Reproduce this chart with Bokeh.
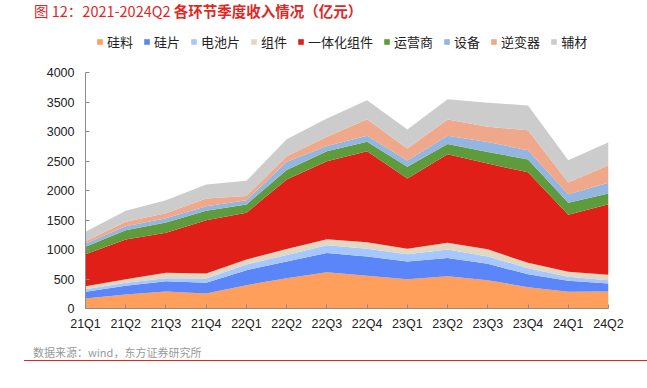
from bokeh.plotting import figure
from bokeh.models import ColumnDataSource, FixedTicker, Range1d, Legend, LegendItem, Div
from bokeh.layouts import column
from bokeh.embed import file_html
from bokeh.resources import INLINE

quarters = ["21Q1", "21Q2", "21Q3", "21Q4", "22Q1", "22Q2", "22Q3", "22Q4",
            "23Q1", "23Q2", "23Q3", "23Q4", "24Q1", "24Q2"]

silicon_material = [170, 238, 289, 255, 396, 515, 614, 557, 495, 548, 480, 362, 283, 288]   # 硅料
wafer = [113, 147, 175, 181, 255, 285, 328, 326, 305, 309, 278, 218, 187, 136]              # 硅片
cell = [45, 51, 51, 73, 96, 110, 130, 132, 120, 144, 124, 105, 68, 57]                      # 电池片
module = [51, 62, 90, 85, 85, 100, 105, 111, 96, 116, 122, 90, 84, 93]                      # 组件
integrated = [543, 673, 679, 905, 792, 1180, 1323, 1545, 1191, 1501, 1456, 1537, 968, 1197] # 一体化组件
operator = [125, 159, 176, 159, 141, 160, 170, 158, 198, 175, 199, 218, 204, 181]           # 运营商
equipment = [56, 67, 73, 79, 74, 140, 90, 105, 107, 139, 167, 158, 147, 181]                # 设备
inverter = [40, 74, 85, 130, 73, 95, 155, 280, 204, 276, 258, 339, 198, 297]                # 逆变器
auxiliary = [158, 187, 221, 238, 255, 287, 310, 322, 322, 345, 410, 419, 379, 391]          # 辅材

series_names = ["硅料", "硅片", "电池片", "组件", "一体化组件", "运营商", "设备", "逆变器", "辅材"]
series_values = [silicon_material, wafer, cell, module, integrated, operator, equipment, inverter, auxiliary]
colors = ["#FF9F5B", "#5B86FA", "#A6C8FF", "#E2D8C2", "#E11F19", "#5E9B3C", "#93B5DF", "#F0A88A", "#CCCCCC"]

y_ticks = [0, 500, 1000, 1500, 2000, 2500, 3000, 3500, 4000]

title_part1 = "图 12：2021-2024Q2 "
title_part2 = "各环节季度收入情况（亿元）"
source_text = "数据来源：wind，东方证券研究所"

data = {"x": list(range(len(quarters)))}
for n, v in zip(series_names, series_values):
    data[n] = v
source = ColumnDataSource(data)

CJK = "Noto Sans CJK SC"
FONT = "Liberation Sans"
RED = "#E3261F"

# layout geometry (pixels)
W = 647
TITLE_H = 22
BL, BR, BB = 85, 39, 30
FRAME_H = 286          # frame spans legend area + plotting area
AXIS_PX = 235.6        # pixel height of the 0..4000 axis
ymax = y_ticks[-1] * FRAME_H / AXIS_PX

p = figure(width=W, height=FRAME_H + BB, output_backend="svg", toolbar_location=None,
           x_range=Range1d(0, len(quarters) - 1), y_range=Range1d(0, ymax),
           min_border_left=BL, min_border_right=BR, min_border_top=0, min_border_bottom=BB,
           margin=(0, 0, 0, 0))
p.outline_line_color = None
p.xgrid.grid_line_color = None
p.ygrid.grid_line_color = None

renderers = p.varea_stack(series_names, x="x", color=colors, source=source)

for ax in (p.xaxis[0], p.yaxis[0]):
    ax.axis_line_color = "#8C8C8C"
    ax.major_tick_line_color = "#8C8C8C"
    ax.major_tick_in = 4
    ax.major_tick_out = 0
    ax.minor_tick_line_color = None
    ax.major_label_text_font = FONT
    ax.major_label_text_font_size = "12.5px"
    ax.major_label_text_color = "#222222"

p.xaxis[0].ticker = FixedTicker(ticks=list(range(len(quarters))))
p.xaxis[0].major_label_overrides = {i: q for i, q in enumerate(quarters)}
p.xaxis[0].major_label_standoff = 8
p.yaxis[0].ticker = FixedTicker(ticks=y_ticks)
p.yaxis[0].bounds = (y_ticks[0], y_ticks[-1])
p.yaxis[0].major_label_standoff = 11

leg = Legend(items=[LegendItem(label=n, renderers=[r]) for n, r in zip(series_names, renderers)],
             orientation="horizontal", location=(11, 257),
             glyph_width=7, glyph_height=7, label_height=14, label_standoff=4, spacing=10,
             padding=0, margin=0, border_line_color=None, background_fill_alpha=0,
             label_text_font=CJK, label_text_font_size="13px", label_text_color="#222222")
p.add_layout(leg)

title_div = Div(
    text=(f'<div style="margin-left:34px;height:{TITLE_H}px;line-height:{TITLE_H}px;'
          f'font-family:\'{CJK}\';font-size:14.5px;color:{RED};white-space:nowrap;">'
          f'<span>{title_part1}</span><span style="font-weight:bold;">{title_part2}</span></div>'),
    width=W, height=TITLE_H, margin=(0, 0, 0, 0))

source_div = Div(
    text=(f'<div style="margin-left:33px;padding-top:6px;height:22px;line-height:16px;'
          f'font-family:\'{CJK}\';font-size:11px;color:#999999;white-space:nowrap;">{source_text}</div>'
          f'<div style="margin-left:24px;width:623px;height:0;border-top:1px solid {RED};"></div>'),
    width=W, height=26, margin=(0, 0, 0, 0))

layout = column(title_div, p, source_div, spacing=0)
open("out.html", "w").write(file_html(layout, INLINE))
